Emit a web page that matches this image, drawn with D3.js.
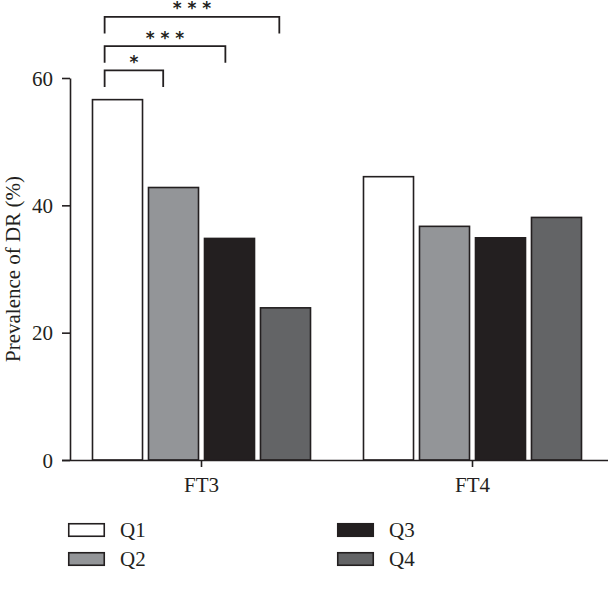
<!DOCTYPE html>
<html><head><meta charset="utf-8">
<script src="https://cdn.jsdelivr.net/npm/d3@7"></script>
<style>body{margin:0;background:#fff}svg{display:block}</style>
</head><body>
<svg id="c" width="608" height="589"></svg>
<script>
const groups = ["FT3", "FT4"];
const quartiles = ["Q1", "Q2", "Q3", "Q4"];
const valuesQ1 = [56.6, 44.5];
const valuesQ2 = [42.8, 36.7];
const valuesQ3 = [34.8, 34.9];
const valuesQ4 = [23.9, 38.1];
const yTicks = [0, 20, 40, 60];
const yTitle = "Prevalence of DR (%)";
const colors = ["#ffffff", "#939598", "#231f20", "#636466"];
// significance brackets (FT3): compare Q1 with Qk
const sigTo = ["Q2", "Q3", "Q4"];
const sigLabel = ["*", "* * *", "* * *"];
const sigLevel = [61.2, 65.0, 69.6];

const series = [valuesQ1, valuesQ2, valuesQ3, valuesQ4];
const svg = d3.select("#c");
const ink = "#231f20";
const font = "'Liberation Serif', 'DejaVu Serif', serif";

const y = d3.scaleLinear().domain([0, 60]).range([460, 78]);
const x0 = d3.scaleBand().domain(groups).range([66, 608]).paddingInner(0.19).paddingOuter(0.095);
const x1 = d3.scaleBand().domain(quartiles).range([0, x0.bandwidth()]).paddingInner(0.08);

// bars
groups.forEach((g, gi) => {
  quartiles.forEach((q, qi) => {
    const v = series[qi][gi];
    svg.append("rect")
      .attr("x", x0(g) + x1(q) + 0.75)
      .attr("y", y(v))
      .attr("width", x1.bandwidth() - 1.5)
      .attr("height", y(0) - y(v))
      .attr("fill", colors[qi])
      .attr("stroke", ink)
      .attr("stroke-width", 1.6);
  });
});

// y axis
const yAxis = svg.append("g").attr("transform", "translate(70,0)")
  .call(d3.axisLeft(y).tickValues(yTicks).tickSize(8).tickPadding(9).tickSizeOuter(0));
yAxis.select(".domain").attr("stroke", ink).attr("stroke-width", 1.6);
yAxis.selectAll(".tick line").attr("stroke", ink).attr("stroke-width", 1.6);
yAxis.selectAll(".tick text").attr("font-family", font).attr("font-size", 21).attr("fill", ink).attr("dy", "0.34em");

// x axis
const xAxis = svg.append("g").attr("transform", "translate(0,460)")
  .call(d3.axisBottom(x0).tickSize(7).tickSizeOuter(0));
xAxis.select(".domain").attr("d", "M62,0.5H608").attr("stroke", ink).attr("stroke-width", 1.6);
xAxis.selectAll(".tick line").attr("stroke", ink).attr("stroke-width", 1.6);
xAxis.selectAll(".tick text").attr("font-family", font).attr("font-size", 21).attr("fill", ink)
  .attr("y", 32).attr("dy", 0);

// y title
svg.append("text")
  .attr("transform", `translate(20,${(y(0) + y(60)) / 2}) rotate(-90)`)
  .attr("text-anchor", "middle")
  .attr("font-family", font).attr("font-size", 21).attr("fill", ink)
  .text(yTitle);

// significance brackets
const drop = 2.6;
const endFrac = [0.3, 0.42, 0.38];
sigTo.forEach((q, i) => {
  const xs = x0("FT3") + x1("Q1") + x1.bandwidth() * 0.25;
  const xe = x0("FT3") + x1(q) + x1.bandwidth() * endFrac[i];
  const yt = y(sigLevel[i]), yb = y(sigLevel[i] - drop);
  svg.append("path")
    .attr("d", `M${xs},${yb}V${yt}H${xe}V${yb}`)
    .attr("fill", "none").attr("stroke", ink).attr("stroke-width", 1.8);
  svg.append("text")
    .attr("x", (xs + xe) / 2).attr("y", yt - 2.5)
    .attr("text-anchor", "middle")
    .attr("font-family", "'DejaVu Sans', sans-serif").attr("font-size", 17).attr("font-weight", "bold").attr("fill", ink)
    .text(sigLabel[i]);
});

// legend
const legPos = [[68, 523], [68, 552], [337, 523], [337, 552]];
quartiles.forEach((q, i) => {
  const [lx, ly] = legPos[i];
  svg.append("rect").attr("x", lx + 0.75).attr("y", ly + 0.75).attr("width", 35.5).attr("height", 12.5)
    .attr("fill", colors[i]).attr("stroke", ink).attr("stroke-width", 1.6);
  svg.append("text").attr("x", lx + 52).attr("y", ly + 13.5)
    .attr("font-family", font).attr("font-size", 21).attr("fill", ink).text(q);
});
</script>
</body></html>
